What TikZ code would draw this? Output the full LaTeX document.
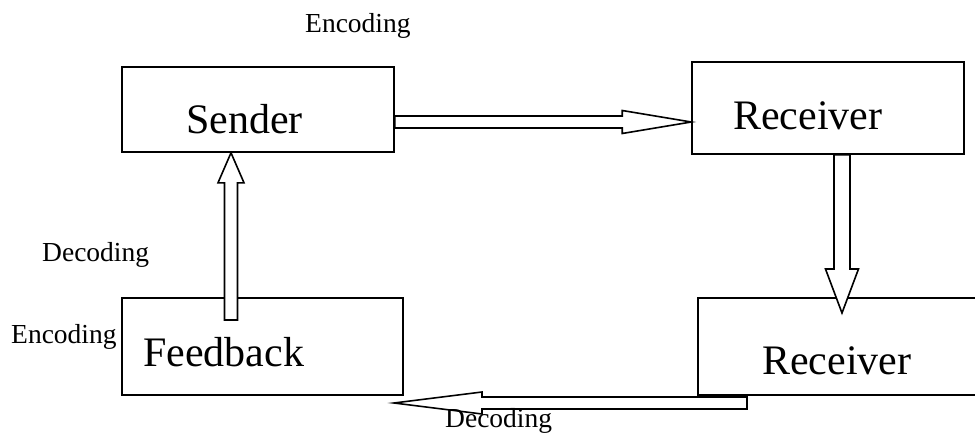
\documentclass[tikz,border=0pt]{standalone}
\usepackage{fontspec}
\setmainfont{Liberation Serif}
\usetikzlibrary{calc}

% Flecha de bloque: origen, destino, largo de la punta, medio ancho del cuerpo, medio ancho de la punta
\newcommand{\flechabloque}[5]{%
  \path ($(#2)!#3!(#1)$) coordinate (base);
  \draw[bloque] ($(#1)!#4!90:(#2)$) -- ($(base)!#4!90:(#2)$) -- ($(base)!#5!90:(#2)$) -- (#2)
    -- ($(base)!#5!-90:(#2)$) -- ($(base)!#4!-90:(#2)$) -- ($(#1)!#4!-90:(#2)$) -- cycle;
}

\begin{document}
\begin{tikzpicture}[x=1pt, y=-1pt,
    caja/.style={draw, line width=1.6pt, rectangle, inner sep=0pt},
    bloque/.style={draw, fill=white, line width=1.6pt, line join=miter},
    grande/.style={inner sep=0pt, anchor=base west, font=\fontsize{42}{48}\selectfont},
    chico/.style={inner sep=0pt, anchor=base west, font=\fontsize{27.5}{33}\selectfont}]

    % Marco de la figura
    \useasboundingbox (0, 0) rectangle (975, 434);
    \clip (0, 0) rectangle (975, 434);

    % Cajas
    \node[caja, minimum width=272pt, minimum height=85pt] (sender) at (258, 109.5) {};
    \node[caja, minimum width=272pt, minimum height=92pt] (rectop) at (828, 108) {};
    \node[caja, minimum width=287pt, minimum height=97pt] (recbot) at (841.5, 346.5) {};
    \node[caja, minimum width=281pt, minimum height=97pt] (feedback) at (262.5, 346.5) {};

    % Textos de las cajas
    \node[grande] (sendertxt) at (186, 133) {Sender};
    \node[grande] (rectoptxt) at (733, 129) {Receiver};
    \node[grande] (recbottxt) at (762, 374) {Receiver};
    \node[grande] (feedbacktxt) at (143, 366) {Feedback};

    % Extremos de las flechas
    \coordinate (a1) at (sender.east |- 0, 122);
    \coordinate (b1) at (rectop.west |- 0, 122);
    \coordinate (a2) at (rectop.south -| 842, 0);
    \coordinate (b2) at (842, 313);
    \coordinate (a3) at (747, 403);
    \coordinate (b3) at (394, 403);
    \coordinate (a4) at (231, 320);
    \coordinate (b4) at (sender.south -| 231, 0);

    % Flechas
    \flechabloque{a1}{b1}{69pt}{6pt}{11.5pt}
    \flechabloque{a2}{b2}{44pt}{8pt}{16.5pt}
    \flechabloque{a3}{b3}{88pt}{6pt}{11pt}
    \flechabloque{a4}{b4}{30pt}{6.5pt}{13pt}

    % Etiquetas
    \node[chico] (enc1) at (305, 32) {Encoding};
    \node[chico] (dec1) at (42, 261) {Decoding};
    \node[chico] (enc2) at (11, 343) {Encoding};
    \node[chico] (dec2) at (445, 427) {Decoding};

  \end{tikzpicture}
\end{document}
